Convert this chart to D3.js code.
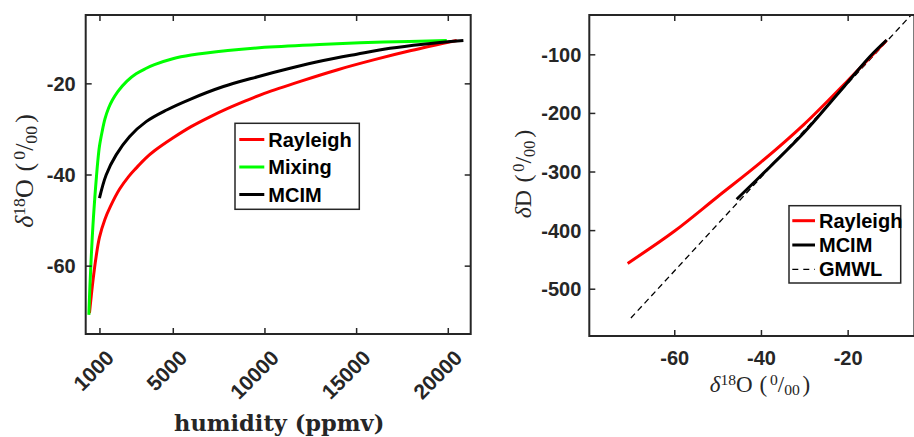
<!DOCTYPE html>
<html><head><meta charset="utf-8">
<script src="https://cdn.jsdelivr.net/npm/d3@7"></script>
<style>body{margin:0;background:#fff} svg{display:block}</style>
</head><body>
<svg id="chart" width="914" height="437"></svg>
<script>
// ---------- DATA ----------
const humidityTicks = [1000, 5000, 10000, 15000, 20000];
const leftYTicks = [-20, -40, -60];
const rightXTicks = [-60, -40, -20];
const rightYTicks = [-100, -200, -300, -400, -500];

// left panel: d18O vs humidity (ppmv)
const rayleighHum = [455, 550, 640, 820, 1000, 1300, 1600, 2100, 2600, 3000, 3500, 4000, 5000, 6000, 7000, 8000, 9000, 10000, 12000, 14000, 16000, 18000, 20491];
const rayleighD18O = [-70.4, -66.8, -63.5, -58.0, -53.8, -49.8, -47.0, -43.2, -40.4, -38.6, -36.5, -34.8, -32.0, -29.5, -27.4, -25.5, -23.8, -22.2, -19.5, -17.0, -14.8, -12.8, -10.6];
const mixingHum = [422, 480, 547, 610, 673, 750, 820, 900, 1000, 1150, 1300, 1500, 1700, 2000, 2500, 3000, 3500, 4000, 5000, 6000, 8000, 10000, 13000, 16500, 19945];
const mixingD18O = [-70.8, -64.5, -58.6, -53.6, -49.4, -44.9, -41.3, -37.5, -33.8, -30.5, -27.8, -25.4, -23.7, -21.8, -19.5, -17.9, -16.8, -15.9, -14.6, -13.8, -12.8, -12.1, -11.45, -10.95, -10.6];
const mcimHum = [1000, 1365, 1911, 2636, 3547, 4637, 5946, 7762, 9584, 11400, 13216, 15037, 16853, 18670, 20851];
const mcimD18O = [-45.2, -40.1, -35.7, -31.7, -28.4, -25.9, -23.5, -20.7, -18.6, -16.7, -15.0, -13.6, -12.3, -11.4, -10.6];

// right panel: dD vs d18O
const rayleighX = [-70.75, -60, -50, -40, -30, -20, -11];
const rayleighY = [-456.8, -402, -343, -284, -219, -145, -76];
const mcimX = [-45.6, -37.9, -30.2, -22.5, -14.9, -11.0];
const mcimY = [-347.4, -291.8, -234.8, -169.5, -104.1, -75.6];
const gmwlX = [-70, -5];
const gmwlY = [-550, -30];

const leftLegend = ["Rayleigh", "Mixing", "MCIM"];
const leftColors = ["#ff0000", "#00ff00", "#000000"];
const rightLegend = ["Rayleigh", "MCIM", "GMWL"];

// ---------- DRAW ----------
const svg = d3.select("#chart");
const AX = "#262626";
const sansBold = "'Liberation Sans', Arial, Helvetica, sans-serif";
const serif = "'Liberation Serif', 'Times New Roman', serif";
const fmt = d => String(d);

function zip(a, b) { return a.map((v, i) => [v, b[i]]); }

function deltaLabel(t, iso, fs) {
  t.attr("font-family", serif).attr("font-size", fs).attr("fill", AX);
  t.append("tspan").attr("font-style", "italic").text("δ");
  if (iso === "O") {
    t.append("tspan").attr("font-size", fs * 0.68).attr("dy", -fs * 0.3).text("18");
    t.append("tspan").attr("dy", fs * 0.3).text("O");
  } else {
    t.append("tspan").text("D");
  }
  t.append("tspan").attr("dx", fs * 0.3).text("(");
  t.append("tspan").attr("font-size", fs * 0.68).attr("dx", fs * 0.12).attr("dy", -fs * 0.3).text("0");
  t.append("tspan").attr("dy", fs * 0.3).text("/");
  t.append("tspan").attr("font-size", fs * 0.68).attr("dy", fs * 0.15).text("00");
  t.append("tspan").attr("dx", fs * 0.12).attr("dy", -fs * 0.15).text(")");
}

function styleAxis(g) {
  g.select(".domain").remove();
  g.selectAll(".tick line").attr("stroke", AX).attr("stroke-width", 1.5);
  g.selectAll(".tick text").attr("fill", AX).attr("font-family", sansBold)
    .attr("font-weight", "bold").attr("font-size", 20);
}

// ===== LEFT PANEL =====
const L = { x0: 85.7, x1: 470.7, y0: 15, y1: 334 };
const xL = d3.scaleLinear().domain([250, 21250]).range([L.x0, L.x1]);
const yL = d3.scaleLinear().domain([-75, -5]).range([L.y1, L.y0]);

const defs = svg.append("defs");
defs.append("clipPath").attr("id", "clipL")
  .append("rect").attr("x", L.x0).attr("y", L.y0).attr("width", L.x1 - L.x0).attr("height", L.y1 - L.y0);

const lineL = d3.line().x(d => xL(d[0])).y(d => yL(d[1])).curve(d3.curveCatmullRom.alpha(0.5));
const gL = svg.append("g").attr("clip-path", "url(#clipL)");
gL.append("path").datum(zip(rayleighHum, rayleighD18O)).attr("d", lineL)
  .attr("fill", "none").attr("stroke", leftColors[0]).attr("stroke-width", 3);
gL.append("path").datum(zip(mixingHum, mixingD18O)).attr("d", lineL)
  .attr("fill", "none").attr("stroke", leftColors[1]).attr("stroke-width", 3);
gL.append("path").datum(zip(mcimHum, mcimD18O)).attr("d", lineL)
  .attr("fill", "none").attr("stroke", leftColors[2]).attr("stroke-width", 3);

// axes
const axBL = svg.append("g").attr("transform", `translate(0,${L.y1})`)
  .call(d3.axisBottom(xL).tickValues(humidityTicks).tickSize(-6).tickFormat(fmt));
styleAxis(axBL);
axBL.selectAll(".tick text").attr("y", null).attr("dy", null).attr("font-size", 21)
  .attr("text-anchor", "end").attr("dominant-baseline", "central")
  .attr("transform", "translate(10,20) rotate(-45)");
const axTL = svg.append("g").attr("transform", `translate(0,${L.y0})`)
  .call(d3.axisTop(xL).tickValues(humidityTicks).tickSize(-6).tickFormat(""));
styleAxis(axTL);
const axLL = svg.append("g").attr("transform", `translate(${L.x0},0)`)
  .call(d3.axisLeft(yL).tickValues(leftYTicks).tickSize(-6).tickPadding(10).tickFormat(fmt));
styleAxis(axLL);
axLL.selectAll(".tick text").attr("dy", null).attr("dominant-baseline", "central");
const axRL = svg.append("g").attr("transform", `translate(${L.x1},0)`)
  .call(d3.axisRight(yL).tickValues(leftYTicks).tickSize(-6).tickFormat(""));
styleAxis(axRL);
svg.append("rect").attr("x", L.x0).attr("y", L.y0).attr("width", L.x1 - L.x0).attr("height", L.y1 - L.y0)
  .attr("fill", "none").attr("stroke", AX).attr("stroke-width", 2);

// labels
svg.append("text").attr("x", (L.x0 + L.x1) / 2 + 1).attr("y", 431).attr("text-anchor", "middle")
  .attr("font-family", "'DejaVu Serif', serif").attr("font-weight", "bold").attr("font-size", 22.5)
  .attr("fill", AX).text("humidity (ppmv)");
deltaLabel(svg.append("text").attr("text-anchor", "middle")
  .attr("transform", "translate(33,171) rotate(-90)"), "O", 26);

// legend left
const lgL = svg.append("g");
lgL.append("rect").attr("x", 235).attr("y", 123.3).attr("width", 124.3).attr("height", 86)
  .attr("fill", "#fff").attr("stroke", AX).attr("stroke-width", 1.5);
leftLegend.forEach((name, i) => {
  const cy = 139.5 + i * 27.5;
  lgL.append("line").attr("x1", 239.3).attr("x2", 264.3).attr("y1", cy).attr("y2", cy)
    .attr("stroke", leftColors[i]).attr("stroke-width", 3);
  lgL.append("text").attr("x", 268.3).attr("y", cy).attr("dominant-baseline", "central")
    .attr("font-family", sansBold).attr("font-weight", "bold").attr("font-size", 20)
    .attr("fill", "#000").text(name);
});

// ===== RIGHT PANEL =====
const R = { x0: 589.3, x1: 914.4, y0: 15, y1: 336 };
const xR = d3.scaleLinear().domain([-79.6, -4.6]).range([R.x0, R.x1]);
const yR = d3.scaleLinear().domain([-580.7, -32.9]).range([R.y1, R.y0]);

defs.append("clipPath").attr("id", "clipR")
  .append("rect").attr("x", R.x0).attr("y", R.y0).attr("width", R.x1 - R.x0).attr("height", R.y1 - R.y0);
const lineR = d3.line().x(d => xR(d[0])).y(d => yR(d[1])).curve(d3.curveCatmullRom.alpha(0.5));
const gR = svg.append("g").attr("clip-path", "url(#clipR)");
gR.append("path").datum(zip(gmwlX, gmwlY)).attr("d", lineR)
  .attr("fill", "none").attr("stroke", "#000").attr("stroke-width", 1.3).attr("stroke-dasharray", "6,4");
gR.append("path").datum(zip(rayleighX, rayleighY)).attr("d", lineR)
  .attr("fill", "none").attr("stroke", "#ff0000").attr("stroke-width", 3);
gR.append("path").datum(zip(mcimX, mcimY)).attr("d", lineR)
  .attr("fill", "none").attr("stroke", "#000").attr("stroke-width", 3);

const axBR = svg.append("g").attr("transform", `translate(0,${R.y1})`)
  .call(d3.axisBottom(xR).tickValues(rightXTicks).tickSize(-6).tickPadding(15).tickFormat(fmt));
styleAxis(axBR);
axBR.selectAll(".tick text").attr("dy", "0.71em");
const axTR = svg.append("g").attr("transform", `translate(0,${R.y0})`)
  .call(d3.axisTop(xR).tickValues(rightXTicks).tickSize(-6).tickFormat(""));
styleAxis(axTR);
const axLR = svg.append("g").attr("transform", `translate(${R.x0},0)`)
  .call(d3.axisLeft(yR).tickValues(rightYTicks).tickSize(-6).tickPadding(8).tickFormat(fmt));
styleAxis(axLR);
axLR.selectAll(".tick text").attr("dy", null).attr("dominant-baseline", "central");
svg.append("rect").attr("x", R.x0).attr("y", R.y0).attr("width", R.x1 - R.x0).attr("height", R.y1 - R.y0)
  .attr("fill", "none").attr("stroke", AX).attr("stroke-width", 2);

deltaLabel(svg.append("text").attr("text-anchor", "middle")
  .attr("x", 760).attr("y", 392), "O", 23);
deltaLabel(svg.append("text").attr("text-anchor", "middle")
  .attr("transform", "translate(531,174) rotate(-90)"), "D", 24);

// legend right
const lgR = svg.append("g");
lgR.append("rect").attr("x", 789).attr("y", 205.7).attr("width", 111.7).attr("height", 77.3)
  .attr("fill", "#fff").attr("stroke", AX).attr("stroke-width", 1.5);
rightLegend.forEach((name, i) => {
  const cy = 220.7 + i * 24.3;
  const ln = lgR.append("line").attr("x1", 792.3).attr("x2", 815).attr("y1", cy).attr("y2", cy)
    .attr("stroke", i === 0 ? "#ff0000" : "#000").attr("stroke-width", i === 2 ? 1.3 : 3);
  if (i === 2) ln.attr("stroke-dasharray", "6,5");
  lgR.append("text").attr("x", 819).attr("y", cy).attr("dominant-baseline", "central")
    .attr("font-family", sansBold).attr("font-weight", "bold").attr("font-size", 20)
    .attr("fill", "#000").text(name);
});
</script>
</body></html>
